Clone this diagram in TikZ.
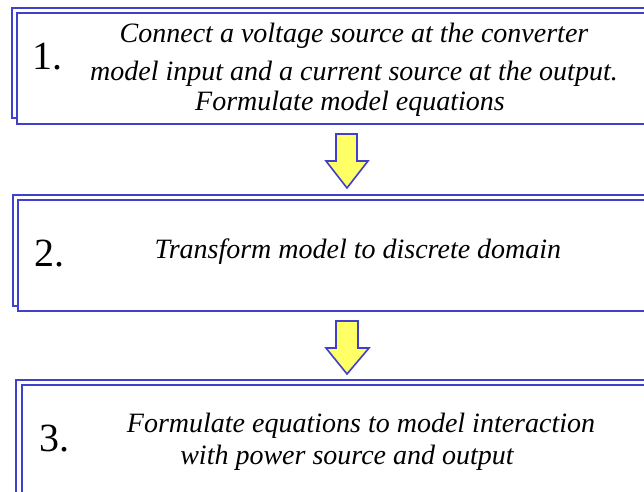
\documentclass[tikz,border=0pt]{standalone}
\usepackage{fontspec}
\setmainfont{Liberation Serif}
\definecolor{bordblue}{RGB}{64,64,204}
\definecolor{arrowyellow}{RGB}{255,255,102}
\tikzset{
  boxline/.style={draw=bordblue, line width=2pt, fill=white},
  blockarrow/.style={draw=bordblue, line width=1.6pt, fill=arrowyellow, line join=miter},
  steptext/.style={font=\fontsize{28}{32}\selectfont\itshape, inner sep=0pt, anchor=base},
  numtext/.style={font=\fontsize{40}{44}\selectfont, inner sep=0pt, anchor=base west}
}
\begin{document}
\begin{tikzpicture}[x=1pt,y=-1pt]
\useasboundingbox (0,0) rectangle (644,491);
\clip (0,0) rectangle (644,491);
% box 1
\draw[boxline] (12,8) rectangle (660,118);
\draw[boxline] (17,13) rectangle (660,124);
% box 2
\draw[boxline] (13,195) rectangle (660,306);
\draw[boxline] (18,200) rectangle (660,311);
% box 3
\draw[boxline] (16,380) rectangle (660,520);
\draw[boxline] (22,385) rectangle (660,520);
% arrows
\draw[blockarrow] (336,134) -- (357,134) -- (357,161) -- (368,161) -- (347,188) -- (326,161) -- (336,161) -- cycle;
\draw[blockarrow] (336,321) -- (358,321) -- (358,348) -- (369,348) -- (347,374) -- (326,348) -- (336,348) -- cycle;
% texts
\node[numtext] (n1) at (32,69) {1.};
\node[steptext] (t1a) at (354,42) {Connect a voltage source at the converter};
\node[steptext] (t1b) at (354,80) {model input and a current source at the output.};
\node[steptext] (t1c) at (350,110) {Formulate model equations};
\node[numtext] (n2) at (34,266) {2.};
\node[steptext] (t2) at (358,258) {Transform model to discrete domain};
\node[numtext] (n3) at (39,451) {3.};
\node[steptext] (t3a) at (361,432) {Formulate equations to model interaction};
\node[steptext] (t3b) at (347,464) {with power source and output};
\end{tikzpicture}
\end{document}
